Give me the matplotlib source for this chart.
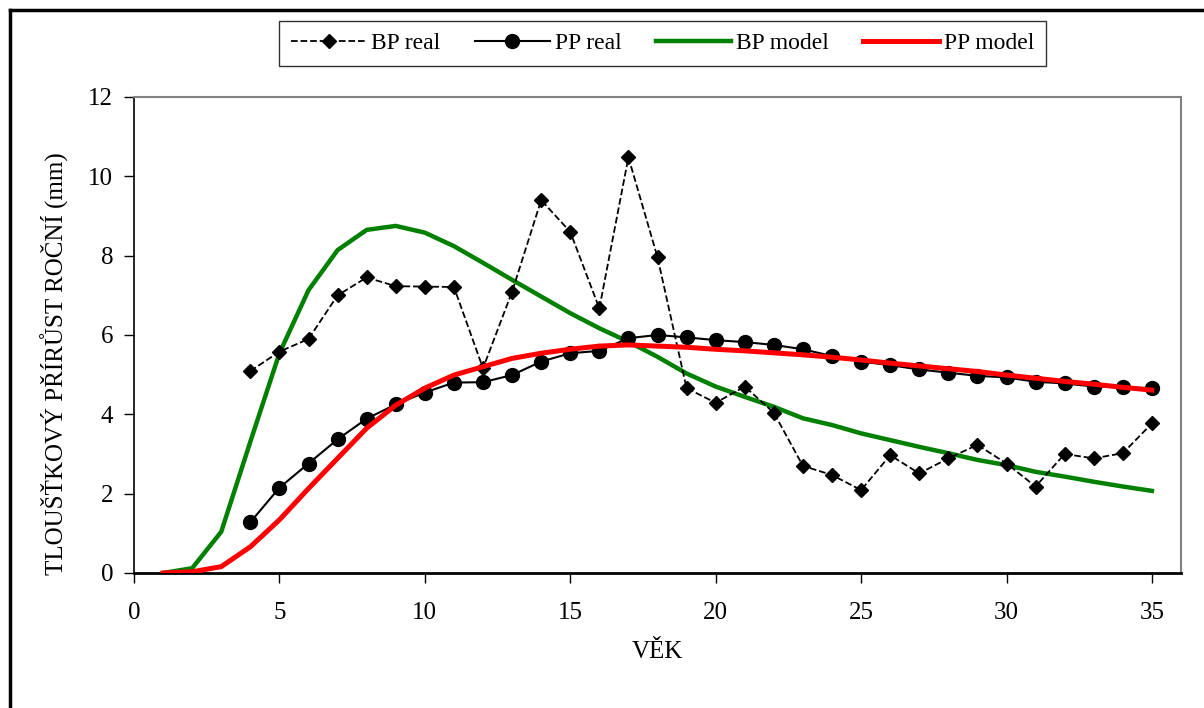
import numpy as np
import matplotlib.pyplot as plt
from matplotlib.lines import Line2D

plt.rcParams['font.family'] = ['Liberation Serif', 'DejaVu Serif']

# vek (roky)
vek_real = list(range(4, 36))
vek_model = list(range(1, 36))

bp_real = [5.09, 5.58, 5.90, 7.00, 7.45, 7.23, 7.22, 7.21, 5.16, 7.09, 9.40, 8.60,
           6.67, 10.48, 7.96, 4.66, 4.29, 4.70, 4.04, 2.70, 2.47, 2.09, 2.97, 2.51,
           2.89, 3.23, 2.76, 2.18, 3.00, 2.89, 3.02, 3.77]
pp_real = [1.28, 2.15, 2.76, 3.37, 3.89, 4.25, 4.55, 4.80, 4.81, 4.99, 5.33, 5.54,
           5.60, 5.92, 6.00, 5.94, 5.87, 5.82, 5.75, 5.64, 5.47, 5.33, 5.24, 5.13,
           5.05, 4.97, 4.93, 4.82, 4.78, 4.70, 4.68, 4.66]
bp_model = [0.0, 0.12, 1.04, 3.31, 5.54, 7.13, 8.14, 8.65, 8.75, 8.58, 8.24, 7.82,
            7.39, 6.97, 6.55, 6.17, 5.83, 5.45, 5.03, 4.70, 4.44, 4.19, 3.90, 3.73,
            3.52, 3.35, 3.18, 3.02, 2.85, 2.72, 2.55, 2.43, 2.30, 2.18, 2.07]
pp_model = [0.0, 0.03, 0.16, 0.66, 1.34, 2.13, 2.89, 3.65, 4.23, 4.66, 4.99, 5.20,
            5.41, 5.54, 5.64, 5.72, 5.75, 5.72, 5.69, 5.64, 5.60, 5.55, 5.50, 5.44,
            5.37, 5.29, 5.22, 5.15, 5.08, 4.99, 4.91, 4.83, 4.76, 4.68, 4.61]

fig = plt.figure(figsize=(12.04, 7.08), dpi=100)
ax = fig.add_axes([0.1113, 0.1907, 0.8696, 0.6723])

ax.plot(vek_model, bp_model, color='#008000', lw=3.2, label='BP model', zorder=2)
ax.plot(vek_model, pp_model, color='#ff0000', lw=3.6, label='PP model', zorder=4)
ax.plot(vek_real, bp_real, color='black', ls='--', lw=1.3, marker='D', ms=7,
        label='BP real', zorder=3)
ax.plot(vek_real, pp_real, color='black', lw=1.5, marker='o', ms=10,
        label='PP real', zorder=3)

ax.set_xlim(0, 36)
ax.set_ylim(0, 12)
ax.set_xticks(range(0, 36, 5))
ax.set_yticks(range(0, 13, 2))
ax.tick_params(direction='out', length=7, width=1, labelsize=18)
ax.tick_params(axis='x', pad=14)
ax.tick_params(axis='y', pad=8)
for s in ['top', 'right']:
    ax.spines[s].set_color('#808080')
    ax.spines[s].set_linewidth(1.5)
ax.spines['left'].set_linewidth(1.2)
ax.spines['bottom'].set_linewidth(2)

ax.set_xlabel('VĚK', fontsize=18, labelpad=12)
ax.set_ylabel('TLOUŠŤKOVÝ PŘÍRŮST ROČNÍ (mm)', fontsize=18)
ax.yaxis.set_label_coords(-0.062, 0.44)

handles = [
    Line2D([], [], color='black', ls='--', lw=1.3, marker='D', ms=7),
    Line2D([], [], color='black', lw=1.5, marker='o', ms=10),
    Line2D([], [], color='#008000', lw=3.2),
    Line2D([], [], color='#ff0000', lw=3.6),
]
leg = fig.legend(handles, ['BP real', 'PP real', 'BP model', 'PP model'],
                 loc='center', bbox_to_anchor=(0.5502, 0.939), ncol=4,
                 fontsize=17, frameon=True, fancybox=False, handlelength=3.2,
                 handletextpad=0.2, columnspacing=1.45, borderpad=0.5)
leg.get_frame().set_edgecolor('black')
leg.get_frame().set_linewidth(1)

# vnejsi ramecek
fig.add_artist(Line2D([10 / 1204, 10 / 1204], [0, 1 - 10 / 708],
                      transform=fig.transFigure, color='black', lw=2.5))
fig.add_artist(Line2D([10 / 1204, 1], [1 - 10 / 708, 1 - 10 / 708],
                      transform=fig.transFigure, color='black', lw=2.5))

fig.savefig('out.png', dpi=100)
